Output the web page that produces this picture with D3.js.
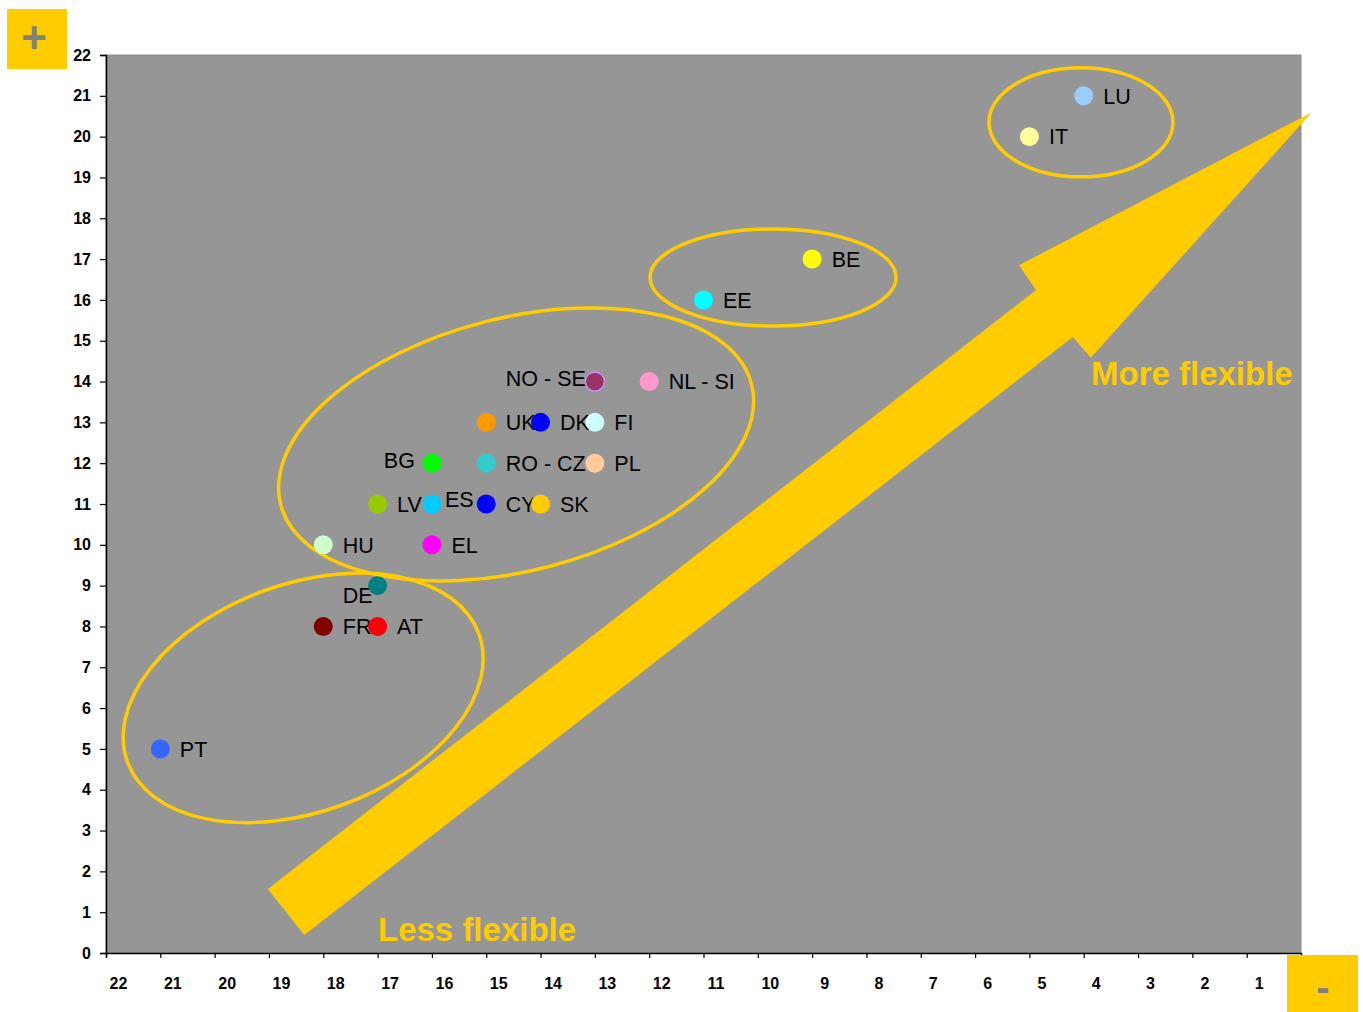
<!DOCTYPE html>
<html>
<head>
<meta charset="utf-8">
<script src="https://cdn.jsdelivr.net/npm/d3@7"></script>
<style>
  html, body { margin: 0; padding: 0; background: #ffffff; }
  svg { display: block; }
  text { font-family: "Liberation Sans", Arial, sans-serif; }
</style>
</head>
<body>
<svg id="chart" width="1363" height="1012"></svg>
<script>
// Countries ranked on two flexibility scores
const countries = ["LU", "IT", "BE", "EE", "NO - SE", "NL - SI", "UK", "DK", "FI", "BG", "RO - CZ",
                   "PL", "LV", "ES", "CY", "SK", "HU", "EL", "DE", "FR", "AT", "PT"];
const xValues = [4, 5, 9, 11, 13, 12, 15, 14, 13, 16, 15, 13, 17, 16, 15, 14, 18, 16, 17, 18, 17, 21];
const yValues = [21, 20, 17, 16, 14, 14, 13, 13, 13, 12, 12, 12, 11, 11, 11, 11, 10, 10, 9, 8, 8, 5];
const pointColors = ["#99ccff", "#ffff99", "#ffff00", "#00ffff", "#993366", "#ff99cc", "#ff9900",
                     "#0000ff", "#ccffff", "#00ff00", "#33cccc", "#ffcc99", "#99cc00", "#00ccff",
                     "#0000ff", "#ffcc00", "#ccffcc", "#ff00ff", "#008080", "#800000", "#ff0000", "#3366ff"];
const xTicks = d3.range(22, 0, -1);   // 22 ... 1
const yTicks = d3.range(0, 23);       // 0 ... 22

const svg = d3.select("#chart");
const plot = { left: 106, right: 1301, top: 55, bottom: 953 };

const x = d3.scaleLinear().domain([22, 0]).range([plot.left, plot.right]);
const y = d3.scaleLinear().domain([0, 22]).range([plot.bottom, plot.top]);

const yellow = "#ffcc00";

// plot area
svg.append("rect")
  .attr("x", plot.left).attr("y", plot.top)
  .attr("width", plot.right - plot.left).attr("height", plot.bottom - plot.top)
  .attr("fill", "#969696")
  .attr("stroke", "#8c8c8c").attr("stroke-width", 1);

// axes
const yAxis = d3.axisLeft(y).tickValues(yTicks).tickSize(6).tickFormat(d3.format("d"));
const gy = svg.append("g").attr("transform", `translate(${plot.left},0)`).call(yAxis);
gy.attr("font-size", 16).attr("font-family", "Liberation Sans, Arial, sans-serif");
gy.select(".domain").attr("stroke", "#000").attr("stroke-width", 1.5);
gy.selectAll(".tick line").attr("stroke", "#000").attr("stroke-width", 1.2);
gy.selectAll(".tick text")
  .attr("x", -15)
  .style("font-size", "16px").style("font-weight", "bold").attr("fill", "#000");

const xAxis = d3.axisBottom(x).tickValues(xTicks).tickSize(5).tickFormat(d3.format("d"));
const gx = svg.append("g").attr("transform", `translate(0,${plot.bottom})`).call(xAxis);
gx.attr("font-size", 16).attr("font-family", "Liberation Sans, Arial, sans-serif");
gx.select(".domain").attr("stroke", "#000").attr("stroke-width", 1.5);
gx.selectAll(".tick line").attr("stroke", "#000").attr("stroke-width", 1.2);
gx.selectAll(".tick text")
  .attr("x", 12).attr("y", 25)
  .style("font-size", "16px").style("font-weight", "bold").attr("fill", "#000");

// direction arrow (data units)
const arrowShape = [[19.02, 1.57], [4.88, 16.24], [5.19, 16.85], [-0.2, 20.6],
                    [3.87, 14.58], [4.2, 15.09], [18.35, 0.44]];
svg.append("path")
  .attr("d", d3.line().x(d => x(d[0])).y(d => y(d[1]))(arrowShape) + "Z")
  .attr("fill", yellow);

svg.append("text")
  .attr("x", 1091).attr("y", 385)
  .attr("font-size", 33).attr("font-weight", "bold").attr("fill", yellow)
  .text("More flexible");
svg.append("text")
  .attr("x", 378).attr("y", 941)
  .attr("font-size", 33).attr("font-weight", "bold").attr("fill", yellow)
  .text("Less flexible");

// grouping ellipses: centre in data units, radii in px, rotation in degrees
const groups = [
  { cx: 4.05, cy: 20.35, rx: 92, ry: 54.5, rot: 0 },
  { cx: 9.72, cy: 16.55, rx: 123, ry: 48.5, rot: 0 },
  { cx: 14.45, cy: 12.46, rx: 243, ry: 126.5, rot: -14.3 },
  { cx: 18.37, cy: 6.25, rx: 187, ry: 114, rot: -20 }
];
svg.append("g").selectAll("ellipse").data(groups).join("ellipse")
  .attr("transform", d => `translate(${x(d.cx)},${y(d.cy)}) rotate(${d.rot})`)
  .attr("rx", d => d.rx).attr("ry", d => d.ry)
  .attr("fill", "none").attr("stroke", yellow).attr("stroke-width", 3.5);

// points and their labels
const points = countries.map((c, i) => ({ name: c, xv: xValues[i], yv: yValues[i], color: pointColors[i] }));
const labelPlacement = {
  "NO - SE": { dx: -9, dy: -3.5, anchor: "end" },
  "BG": { dx: -17, dy: -3, anchor: "end" },
  "ES": { dx: 13, dy: -5, anchor: "start" },
  "DE": { dx: -5, dy: 9.5, anchor: "end" }
};
const place = d => labelPlacement[d.name] || { dx: 19.5, dy: 0, anchor: "start" };

svg.append("g").selectAll("text").data(points).join("text")
  .attr("x", d => x(d.xv) + place(d).dx)
  .attr("y", d => y(d.yv) + place(d).dy)
  .attr("dy", "0.36em")
  .attr("text-anchor", d => place(d).anchor)
  .attr("font-size", 21.5).attr("fill", "#000")
  .text(d => d.name);

svg.append("g").selectAll("circle").data(points).join("circle")
  .attr("cx", d => x(d.xv)).attr("cy", d => y(d.yv))
  .attr("r", 9.5)
  .attr("fill", d => d.color)
  .attr("stroke", d => d.name === "NO - SE" ? "#cc99ff" : "none")
  .attr("stroke-width", 1.2);

// corner markers
svg.append("rect").attr("x", 7).attr("y", 9).attr("width", 60).attr("height", 60).attr("fill", yellow);
svg.append("text").attr("x", 34).attr("y", 53).attr("text-anchor", "middle")
  .attr("font-size", 44).attr("font-weight", "bold").attr("fill", "#808080").text("+");
svg.append("rect").attr("x", 1287).attr("y", 955).attr("width", 71).attr("height", 57).attr("fill", yellow);
svg.append("text").attr("x", 1323).attr("y", 1001).attr("text-anchor", "middle")
  .attr("font-size", 40).attr("font-weight", "bold").attr("fill", "#808080").text("-");
</script>
</body>
</html>
